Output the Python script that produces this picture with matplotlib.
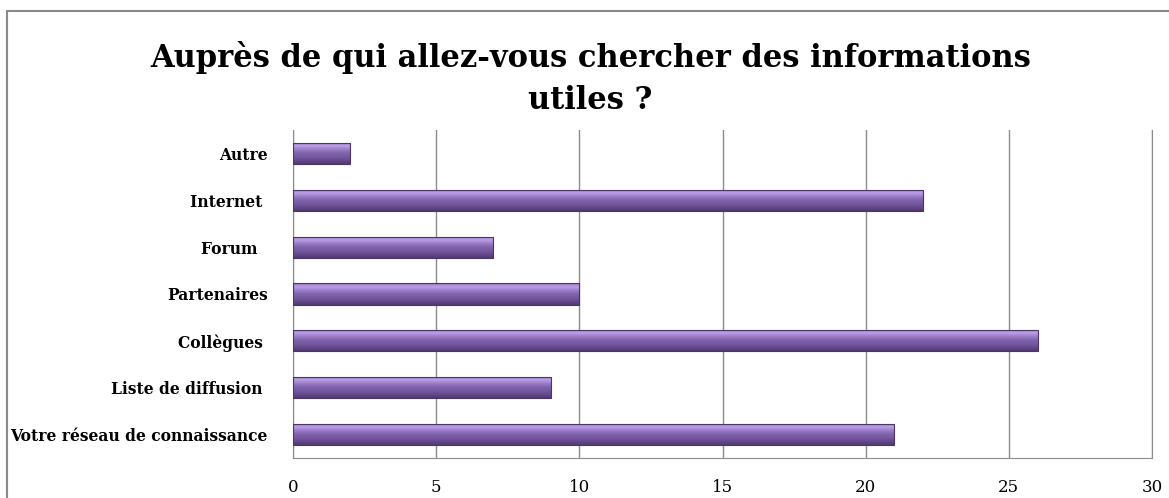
import numpy as np
import matplotlib
matplotlib.use("Agg")
import matplotlib.pyplot as plt
from matplotlib.colors import LinearSegmentedColormap
from matplotlib.patches import Rectangle

# --- DATA ---
categories = ["Autre", "Internet ", "Forum  ", "Partenaires", "Collègues ",
              "Liste de diffusion ", "Votre réseau de connaissance"]
values = [2, 22, 7, 10, 26, 9, 21]
xticks = [0, 5, 10, 15, 20, 25, 30]
title = "Auprès de qui allez-vous chercher des informations\nutiles ?"

# --- STYLE ---
plt.rcParams["font.family"] = ["DejaVu Serif"]
GRID = "#8c8c8c"
# gradient from bottom (dark) to top (light highlight)
bar_cmap = LinearSegmentedColormap.from_list(
    "purple3d", ["#4f3a70", "#654a8c", "#7558a0", "#8063ab", "#9a7cc8", "#bc9fe8", "#9478c2"])

fig = plt.figure(figsize=(11.69, 4.98), dpi=100)
fig.patches.append(Rectangle((7 / 1169, -0.1), 1.2, 1 - 11 / 498 + 0.1, transform=fig.transFigure,
                             fill=False, edgecolor="#8a8a8a", linewidth=1.5))
ax = fig.add_axes([0.2506, 0.0803, 0.7349, 0.6587])

y = np.arange(len(categories))[::-1]
bars = ax.barh(y, values, height=0.45, color="none", edgecolor="#4a3568", linewidth=0.8, zorder=3)

grad = np.linspace(0, 1, 64).reshape(-1, 1)
for b in bars:
    x0, y0 = b.get_x(), b.get_y()
    w, h = b.get_width(), b.get_height()
    im = ax.imshow(grad, cmap=bar_cmap, aspect="auto", origin="lower",
                   extent=[x0, x0 + w, y0, y0 + h], zorder=2)
    im.set_clip_path(b)

ax.set_xlim(0, 30)
ax.set_ylim(-0.5, len(categories) - 0.5)
ax.set_xticks(xticks)
ax.set_xticklabels([str(t) for t in xticks], fontsize=12)
ax.set_yticks(y)
ax.set_yticklabels(categories, fontsize=11.2, fontweight="bold")
ax.tick_params(axis="both", length=0)
ax.tick_params(axis="x", pad=15)
ax.tick_params(axis="y", pad=18)
ax.xaxis.grid(True, color=GRID, linewidth=1.0, zorder=0)
ax.set_axisbelow(True)
for side in ["left", "bottom", "right"]:
    ax.spines[side].set_color(GRID)
ax.spines["top"].set_visible(False)

fig.text(0.505, 0.843, title, ha="center", va="center", fontsize=22, fontweight="bold",
         linespacing=1.45)

fig.savefig("out.png", dpi=100)
